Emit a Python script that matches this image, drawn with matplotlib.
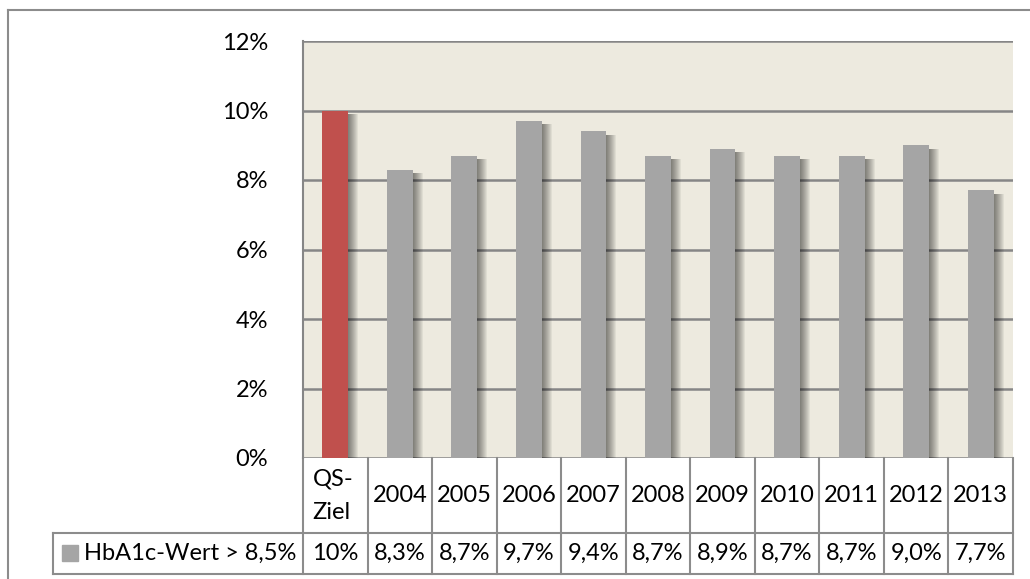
import matplotlib.pyplot as plt
import matplotlib.transforms as mtransforms

categories = ['QS-\nZiel', '2004', '2005', '2006', '2007', '2008', '2009', '2010', '2011', '2012', '2013']
values = [10.0, 8.3, 8.7, 9.7, 9.4, 8.7, 8.9, 8.7, 8.7, 9.0, 7.7]
table_labels = ['10%', '8,3%', '8,7%', '9,7%', '9,4%', '8,7%', '8,9%', '8,7%', '8,7%', '9,0%', '7,7%']
series_name = 'HbA1c-Wert > 8,5%'
yticks = [0, 2, 4, 6, 8, 10, 12]

plt.rcParams['font.family'] = ['Lato', 'DejaVu Sans']
fs = 17

W, H = 1030, 579
fig = plt.figure(figsize=(W / 100, H / 100), dpi=100)

# plot area in pixels
left, right, top, bottom = 303, 1013, 41, 458
ax = fig.add_axes([left / W, 1 - bottom / H, (right - left) / W, (bottom - top) / H])
ax.set_facecolor('#EDEADF')

n = len(categories)
x = list(range(n))
colors = ['#C0504D'] + ['#A5A5A5'] * (n - 1)
px = n / (right - left)  # data units per pixel in x

# soft shadow to the right of bars
for i in range(1, 11):
    ax.bar([xi + i * px for xi in x], [v - 0.1 for v in values], width=0.4,
           color='black', alpha=0.055, linewidth=0, zorder=2)
ax.bar(x, values, width=0.4, color=colors, linewidth=0, zorder=3)

ax.set_xlim(-0.5, n - 0.5)
ax.set_ylim(0, 12)
ax.set_yticks(yticks)
ax.set_yticklabels([f'{t}%' for t in yticks], fontsize=fs)
ax.tick_params(axis='y', length=0, pad=25)
ax.set_xticks([])
ax.grid(axis='y', color='#868686', linewidth=1.8, zorder=1)
ax.set_axisbelow(True)
for s in ['top', 'right', 'bottom']:
    ax.spines[s].set_visible(False)
ax.spines['left'].set_color('#868686')
ax.spines['left'].set_linewidth(1.5)

# data table under the chart
tr = mtransforms.blended_transform_factory(ax.transData, fig.transFigure)
def fy(p):
    return 1 - p / H

row1, row2 = 533, 574
leg_left = -0.5 - (left - 53) * px
lc = '#8C8C8C'
lw = 1.5
ax.plot([leg_left, n - 0.5], [fy(row1), fy(row1)], transform=tr, color=lc, lw=lw, clip_on=False)
ax.plot([leg_left, n - 0.5], [fy(row2), fy(row2)], transform=tr, color=lc, lw=lw, clip_on=False)
ax.plot([leg_left, leg_left], [fy(row1), fy(row2)], transform=tr, color=lc, lw=lw, clip_on=False)
for k in range(n + 1):
    xb = k - 0.5
    ax.plot([xb, xb], [fy(bottom), fy(row2)], transform=tr, color=lc, lw=lw, clip_on=False)

for xi, cat, lab in zip(x, categories, table_labels):
    if '\n' in cat:
        ax.text(xi - 0.35, fy(496), cat, transform=tr, ha='left', va='center',
                fontsize=fs, linespacing=1.75)
    else:
        ax.text(xi, fy(496), cat, transform=tr, ha='center', va='center', fontsize=fs)
    ax.text(xi, fy(553), lab, transform=tr, ha='center', va='center', fontsize=fs)

# legend key in table
fig.patches.append(plt.Rectangle((62 / W, fy(561)), 16 / W, 16 / H, transform=fig.transFigure,
                                 color='#A5A5A5', figure=fig))
fig.text(84 / W, fy(553), series_name, ha='left', va='center', fontsize=fs)

# outer chart frame
fig.add_artist(plt.Line2D([8 / W, 8 / W], [0, fy(10)], color='#8C8C8C', lw=1.5))
fig.add_artist(plt.Line2D([8 / W, 1], [fy(10), fy(10)], color='#8C8C8C', lw=1.5))

plt.savefig('out.png', dpi=100)
